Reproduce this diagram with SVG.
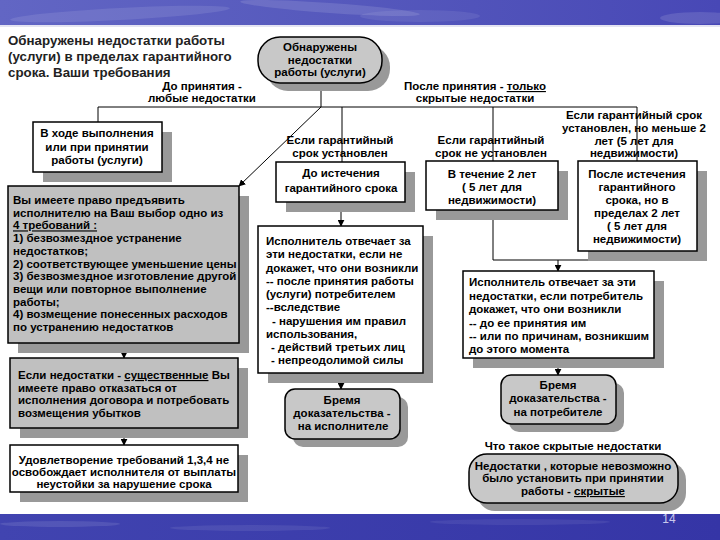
<svg xmlns="http://www.w3.org/2000/svg" width="720" height="540" viewBox="0 0 720 540">
<defs>
<linearGradient id="gTop" x1="0" y1="0" x2="1" y2="0">
<stop offset="0" stop-color="#6266c4"/>
<stop offset="0.5" stop-color="#5558bc"/>
<stop offset="1" stop-color="#4848b6"/>
</linearGradient>
<linearGradient id="gBot" x1="0" y1="0" x2="1" y2="0">
<stop offset="0" stop-color="#4144b0"/>
<stop offset="1" stop-color="#3535a6"/>
</linearGradient>
<marker id="ah" viewBox="0 0 10 10" refX="9" refY="5" markerWidth="7" markerHeight="7" orient="auto" markerUnits="userSpaceOnUse">
<path d="M0,0 L10,5 L0,10 z" fill="#000"/>
</marker>
</defs>
<style>
.sh{fill:#999}
.bw{fill:#fff;stroke:#000;stroke-width:1.5}
.bg{fill:#c0c0c0;stroke:#000;stroke-width:1.5}
.nd{fill:#c8c8c8;stroke:#000;stroke-width:1.5}
.c{stroke:#000;stroke-width:1;fill:none}
.ca{stroke:#000;stroke-width:1;fill:none;marker-end:url(#ah)}
text{font-family:"Liberation Sans",Arial,sans-serif;font-weight:bold;font-size:11.5px;fill:#000}
.m{text-anchor:middle}
.ttl{font-size:13.3px;fill:#222}
.u{text-decoration:underline}
</style>
<rect width="720" height="540" fill="#fff"/>
<!-- banners -->
<g id="topBanner">
<rect x="0" y="0" width="720" height="25" fill="url(#gTop)"/>
<ellipse cx="120" cy="14" rx="110" ry="6" fill="#fff" opacity="0.1" transform="rotate(-3 120 14)"/>
<ellipse cx="330" cy="8" rx="90" ry="5" fill="#fff" opacity="0.12" transform="rotate(4 330 8)"/>
<ellipse cx="420" cy="16" rx="60" ry="6" fill="#fff" opacity="0.08"/>
<ellipse cx="700" cy="18" rx="40" ry="6" fill="#fff" opacity="0.12"/>
<rect x="0" y="25" width="720" height="2" fill="#e4e4f2"/>
</g>
<g id="bottomBanner">
<rect x="0" y="514" width="720" height="26" fill="url(#gBot)"/>
<ellipse cx="60" cy="524" rx="60" ry="3" fill="#fff" opacity="0.1"/>
<ellipse cx="250" cy="528" rx="80" ry="3" fill="#fff" opacity="0.08"/>
<ellipse cx="520" cy="522" rx="90" ry="3" fill="#fff" opacity="0.07"/>
<text x="669" y="523" class="m" style="font-weight:normal;font-size:12px;fill:#c8c8ec">14</text>
</g>
<!-- title -->
<g id="title">
<text class="ttl" x="8" y="45">Обнаружены недостатки работы</text>
<text class="ttl" x="8" y="61">(услуги) в пределах гарантийного</text>
<text class="ttl" x="8" y="77">срока. Ваши требования</text>
</g>
<!-- connectors -->
<g id="connectors">
<line class="c" x1="321" y1="83" x2="321" y2="107"/>
<line class="c" x1="98" y1="107" x2="637" y2="107"/>
<line class="c" x1="98" y1="107" x2="98" y2="122"/>
<line class="c" x1="342" y1="107" x2="342" y2="162"/>
<line class="c" x1="493" y1="107" x2="493" y2="161"/>
<line class="c" x1="637" y1="107" x2="637" y2="161"/>
<line class="ca" x1="321" y1="107" x2="239" y2="186"/>
<line class="ca" x1="341" y1="202" x2="341" y2="226"/>
<line class="ca" x1="341" y1="373" x2="341" y2="389"/>
<polyline class="c" points="493,210 493,260 637,260 637,251"/>
<line class="ca" x1="558" y1="260" x2="558" y2="271"/>
<line class="ca" x1="558" y1="358" x2="558" y2="375"/>
<line class="ca" x1="124" y1="343" x2="124" y2="358"/>
<line class="ca" x1="124" y1="428" x2="124" y2="445"/>
</g>
<!-- edge labels -->
<g id="labels">
<text class="m" x="202" y="90">До принятия -</text>
<text class="m" x="202" y="102">любые недостатки</text>
<text class="m" x="475" y="90">После принятия - <tspan class="u">только</tspan></text>
<text class="m" x="475" y="102">скрытые недостатки</text>
<text class="m" x="340" y="144">Если гарантийный</text>
<text class="m" x="340" y="157">срок установлен</text>
<text class="m" x="491" y="144">Если гарантийный</text>
<text class="m" x="491" y="157">срок не установлен</text>
<text class="m" x="634" y="119">Если гарантийный срок</text>
<text class="m" x="634" y="132">установлен, но меньше 2</text>
<text class="m" x="634" y="145">лет (5 лет для</text>
<text class="m" x="634" y="157">недвижимости)</text>
<text class="m" x="573" y="450">Что такое скрытые недостатки</text>
</g>
<!-- nodes -->
<g id="root">
<rect class="sh" x="266" y="45" width="124" height="46" rx="22"/>
<rect class="nd" x="258" y="37" width="124" height="46" rx="22"/>
<text class="m" x="320" y="51">Обнаружены</text>
<text class="m" x="320" y="64">недостатки</text>
<text class="m" x="320" y="76">работы (услуги)</text>
</g>
<g id="during">
<rect class="sh" x="43" y="132" width="129" height="50"/>
<rect class="bw" x="33" y="122" width="129" height="50"/>
<text class="m" x="97" y="137">В ходе выполнения</text>
<text class="m" x="97" y="151">или при принятии</text>
<text class="m" x="97" y="164">работы (услуги)</text>
</g>
<g id="rights">
<rect class="sh" x="18" y="196" width="231" height="157"/>
<rect class="bg" x="8" y="186" width="231" height="157"/>
<text x="13" y="204">Вы имеете право предъявить</text>
<text x="13" y="216.7">исполнителю на Ваш выбор одно из</text>
<text x="13" y="229.4" class="u">4 требований :</text>
<text x="13" y="242.1">1) безвозмездное устранение</text>
<text x="13" y="254.8">недостатков;</text>
<text x="13" y="267.5">2) соответствующее уменьшение цены</text>
<text x="13" y="280.2">3) безвозмездное изготовление другой</text>
<text x="13" y="292.9">вещи или повторное выполнение</text>
<text x="13" y="305.6">работы;</text>
<text x="13" y="318.3">4) возмещение понесенных расходов</text>
<text x="13" y="331">по устранению недостатков</text>
</g>
<g id="essential">
<rect class="sh" x="20" y="368" width="228" height="70"/>
<rect class="bg" x="10" y="358" width="228" height="70"/>
<text x="18" y="379">Если недостатки - <tspan class="u">существенные</tspan> Вы</text>
<text x="18" y="391.5">имеете право отказаться от</text>
<text x="18" y="404">исполнения договора и потребовать</text>
<text x="18" y="416.5">возмещения убытков</text>
</g>
<g id="penalty">
<rect class="sh" x="20" y="455" width="228" height="47"/>
<rect class="bw" x="10" y="445" width="228" height="47"/>
<text class="m" x="124" y="464">Удовлетворение  требований 1,3,4 не</text>
<text class="m" x="124" y="476">освобождает исполнителя от выплаты</text>
<text class="m" x="124" y="488">неустойки за нарушение срока</text>
</g>
<g id="beforeExpiry">
<rect class="sh" x="286" y="172" width="129" height="40"/>
<rect class="bw" x="276" y="162" width="129" height="40"/>
<text class="m" x="341" y="177">До истечения</text>
<text class="m" x="341" y="192">гарантийного срока</text>
</g>
<g id="contractorLiable">
<rect class="sh" x="268" y="236" width="165" height="147"/>
<rect class="bw" x="258" y="226" width="165" height="147"/>
<text x="266" y="245">Исполнитель отвечает за</text>
<text x="266" y="258">эти недостатки, если не</text>
<text x="266" y="271.5">докажет, что они возникли</text>
<text x="266" y="284.5">-- после принятия работы</text>
<text x="266" y="298">(услуги) потребителем</text>
<text x="266" y="311">--вследствие</text>
<text x="272" y="324.5">- нарушения им правил</text>
<text x="266" y="337.5">использования,</text>
<text x="271" y="350.5">- действий третьих лиц</text>
<text x="271" y="363.5">- непреодолимой силы</text>
</g>
<g id="burdenContractor">
<rect class="sh" x="293" y="397" width="115" height="50" rx="10"/>
<rect class="nd" x="285" y="389" width="115" height="50" rx="10"/>
<text class="m" x="342" y="404">Бремя</text>
<text class="m" x="342" y="417">доказательства -</text>
<text class="m" x="343" y="430">на исполнителе</text>
</g>
<g id="within2y">
<rect class="sh" x="436" y="171" width="132" height="49"/>
<rect class="bw" x="426" y="161" width="132" height="49"/>
<text class="m" x="492" y="178">В течение 2 лет</text>
<text class="m" x="492" y="191">( 5 лет для</text>
<text class="m" x="492" y="204">недвижимости)</text>
</g>
<g id="afterExpiry">
<rect class="sh" x="588" y="171" width="119" height="90"/>
<rect class="bw" x="578" y="161" width="119" height="90"/>
<text class="m" x="637" y="178">После истечения</text>
<text class="m" x="637" y="191">гарантийного</text>
<text class="m" x="637" y="204">срока, но в</text>
<text class="m" x="637" y="217">пределах 2 лет</text>
<text class="m" x="637" y="230">( 5 лет для</text>
<text class="m" x="637" y="243">недвижимости)</text>
</g>
<g id="consumerProves">
<rect class="sh" x="473" y="281" width="191" height="87"/>
<rect class="bw" x="463" y="271" width="191" height="87"/>
<text x="469" y="286">Исполнитель отвечает за эти</text>
<text x="469" y="300">недостатки, если потребитель</text>
<text x="469" y="313">докажет, что они возникли</text>
<text x="469" y="327">-- до ее принятия им</text>
<text x="469" y="340">-- или по причинам, возникшим</text>
<text x="469" y="353">до этого момента</text>
</g>
<g id="burdenConsumer">
<rect class="sh" x="509" y="383" width="115" height="49" rx="10"/>
<rect class="nd" x="501" y="375" width="115" height="49" rx="10"/>
<text class="m" x="558" y="389">Бремя</text>
<text class="m" x="558" y="402">доказательства -</text>
<text class="m" x="558" y="416">на потребителе</text>
</g>
<g id="hiddenDef">
<rect class="sh" x="477" y="462" width="209" height="49" rx="18"/>
<rect class="nd" x="469" y="454" width="209" height="49" rx="18"/>
<text class="m" x="573" y="470">Недостатки , которые невозможно</text>
<text class="m" x="573" y="482">было установить при принятии</text>
<text class="m" x="573" y="495">работы  - <tspan class="u">скрытые</tspan></text>
</g>
</svg>
